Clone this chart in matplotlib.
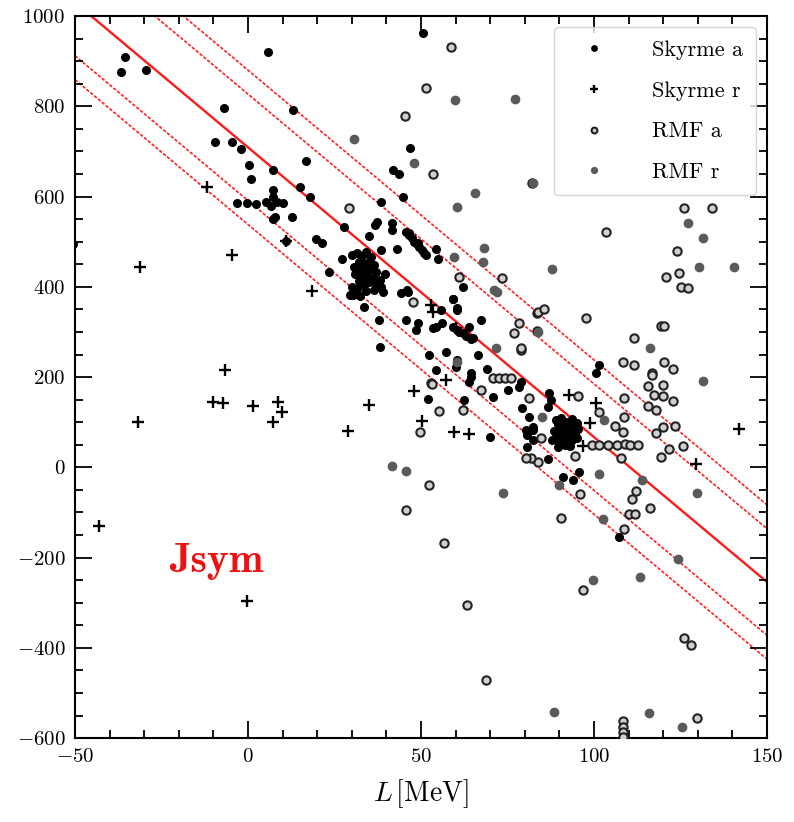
import numpy as np
import matplotlib
matplotlib.use("Agg")
import matplotlib.pyplot as plt

plt.rcParams['font.family'] = 'serif'
plt.rcParams['font.serif'] = ['cmr10', 'DejaVu Serif']
plt.rcParams['mathtext.fontset'] = 'cm'
plt.rcParams['axes.formatter.use_mathtext'] = True

# Skyrme a (filled black dots)
skyrme_a = [
    (-35.5, 910), (-36.7, 876), (-29.5, 880), (5.9, 921), (-6.8, 797), (12.9, 792),
    (-9.5, 721), (-4.6, 721), (-2.0, 705), (0.3, 670), (1.0, 638), (7.3, 659),
    (16.8, 679), (15.0, 622), (17.9, 600), (-3.3, 586), (-0.4, 585), (2.3, 583),
    (5.2, 589), (7.1, 614), (7.3, 600), (8.5, 589), (10.2, 586), (6.5, 578),
    (7.8, 554), (7.1, 550), (12.8, 555), (11.0, 501), (-50.5, 495),
    (50.5, 963), (46.8, 707), (41.8, 659), (43.7, 651), (44.7, 600), (38.4, 589),
    (27.8, 533), (37.2, 544), (36.8, 538), (41.6, 541), (41.6, 526), (35.1, 513),
    (19.7, 505), (21.4, 496), (43.0, 484), (38.4, 481),
    (45.6, 522), (46.5, 515), (47.3, 508), (48.0, 500), (48.8, 494), (49.5, 488),
    (50.2, 482), (51.0, 476), (51.4, 470), (46.5, 519), (49.0, 497),
    (54.3, 483), (54.8, 461), (27.2, 461), (23.5, 433),
    (30.0, 470), (31.5, 475), (33.0, 468), (34.0, 478), (35.5, 465), (32.0, 455),
    (33.5, 450), (35.0, 455), (36.5, 448), (30.5, 445), (32.0, 440), (34.0, 435),
    (35.5, 440), (37.0, 432), (31.0, 428), (33.0, 422), (34.5, 425), (36.0, 420),
    (32.0, 412), (33.5, 405), (35.0, 410), (37.0, 405), (38.5, 400), (30.0, 400),
    (31.5, 395), (34.0, 390), (36.5, 392), (39.0, 388), (29.5, 382), (32.5, 380),
    (38.0, 415), (39.5, 428),
    (30.2, 382), (33.6, 356), (37.8, 326), (38.0, 267), (44.2, 386), (46.1, 389),
    (46.0, 393), (45.6, 326), (49.0, 319), (48.6, 304), (55.8, 349), (56.2, 319),
    (54.3, 311), (53.4, 308), (61.1, 300), (63.9, 311), (64.9, 286), (67.3, 326),
    (60.5, 349), (59.1, 374), (62.0, 400), (59.3, 372), (60.5, 352), (59.1, 311),
    (60.5, 305), (62.0, 298), (63.0, 292), (64.4, 284), (66.4, 249), (57.2, 256),
    (52.4, 249), (54.3, 216), (64.4, 208), (69.2, 219), (60.5, 238), (60.1, 223),
    (64.4, 201), (63.9, 190), (51.9, 151), (62.3, 149), (70.7, 156), (75.0, 171),
    (69.9, 68), (78.4, 179), (78.9, 190), (79.3, 131), (81.3, 112), (82.3, 90),
    (80.3, 83), (82.3, 61), (80.7, 72), (80.7, 45),
    (87.1, 164), (87.6, 149), (86.6, 134), (82.3, 83), (86.6, 18), (95.8, -10),
    (90.9, -21), (93.8, -28), (101.5, 227), (100.5, 208), (107.1, -154),
    (89.0, 105), (90.5, 110), (92.0, 100), (93.5, 108), (95.0, 98), (89.5, 95),
    (91.0, 90), (92.5, 88), (94.0, 92), (95.5, 85), (88.5, 80), (90.0, 78),
    (91.5, 75), (93.0, 72), (94.5, 76), (89.0, 68), (90.5, 65), (92.0, 62),
    (93.5, 60), (95.0, 65), (90.0, 55), (91.5, 50), (93.0, 48), (89.5, 45), (88.0, 60),
]

# Skyrme r (plus)
skyrme_r = [
    (-12.0, 622), (-4.6, 470), (-31.2, 445), (-6.6, 216), (11.0, 501), (18.6, 391),
    (-10.0, 145), (-7.1, 143), (1.5, 137), (8.8, 145), (9.7, 123), (7.3, 100),
    (-31.7, 100), (-43.0, -129), (-0.4, -296), (57.2, 193), (47.9, 170), (35.1, 138),
    (50.3, 103), (28.8, 81), (59.6, 78), (63.8, 75), (52.9, 360), (53.4, 345),
    (60.1, 308), (92.9, 160), (100.5, 142), (98.8, 98), (96.9, 47), (129.5, 7),
    (141.8, 86),
]

# RMF a (open rings)
rmf_a = [
    (58.7, 931), (51.4, 840), (45.5, 779), (53.6, 651), (29.1, 574), (47.6, 367),
    (60.9, 422), (73.4, 419), (83.4, 343), (83.5, 302), (78.2, 320), (76.8, 297),
    (78.9, 260), (70.9, 198), (72.5, 198), (74.2, 198), (75.9, 198), (67.3, 171),
    (78.9, 264), (81.3, 153), (55.3, 125), (62.0, 127), (52.9, 187), (49.8, 78),
    (82.1, 629), (126.1, 574), (134.1, 574), (103.6, 522), (124.0, 480), (120.8, 422),
    (124.7, 430), (125.1, 400), (127.1, 397), (83.7, 345), (85.6, 350), (97.7, 332),
    (119.4, 313), (120.3, 313), (111.6, 286), (108.3, 234), (111.6, 227), (120.3, 234),
    (122.7, 219), (116.9, 208), (116.9, 204), (115.5, 180), (119.8, 182), (117.4, 160),
    (119.8, 158), (122.7, 148), (108.8, 153), (115.5, 136), (117.9, 128), (108.8, 112),
    (106.0, 92), (108.3, 79), (119.8, 90), (117.9, 77), (123.3, 92), (125.6, 47),
    (121.6, 40), (119.4, 24), (112.1, -52), (111.1, -69), (116.3, -89), (110.2, -103),
    (111.9, -103), (108.6, -136), (96.0, -58), (90.5, -112), (96.9, -272), (126.1, -379),
    (127.9, -394), (129.9, -555), (108.3, -563), (108.3, -575), (108.3, -587), (108.3, -598),
    (95.3, 158), (101.5, 123), (99.5, 50), (101.5, 50), (104.0, 50), (106.5, 50),
    (109.0, 51), (110.5, 50), (112.6, 50), (107.8, 20), (83.7, 12), (84.7, 64),
    (81.8, 20), (94.6, 25), (52.2, -39), (45.6, -95), (56.5, -168), (63.2, -305),
    (68.8, -471), (53.1, 185), (80.3, 20),
]

# RMF r (grey dots)
rmf_r = [
    (59.9, 814), (77.3, 816), (30.7, 727), (48.1, 674), (60.4, 577), (65.7, 607),
    (82.3, 631), (59.6, 467), (68.1, 487), (67.8, 456), (71.2, 393), (72.1, 389),
    (71.7, 264), (60.5, 234), (127.1, 541), (131.6, 509), (130.4, 444), (140.5, 443),
    (88.0, 439), (83.7, 300), (116.2, 264), (131.4, 191), (129.9, -56), (114.0, -28),
    (101.5, -15), (102.7, -114), (124.2, -202), (113.3, -242), (99.6, -250), (88.5, -541),
    (116.0, -544), (125.4, -575), (103.0, 105), (85.1, 112), (90.0, -39), (41.6, 3),
    (45.6, -7), (73.8, -56),
]

# linear fit Jsym = a + b*L and band offsets
fit_a = 709.0
fit_b = -6.42
band_offsets = [118, 171]

fig = plt.figure(figsize=(7.94, 8.22), dpi=100)
ax = fig.add_axes([0.0945, 0.102, 0.8715, 0.8785])

L = np.array([-50, 150])
ax.plot(L, fit_a + fit_b * L, color='#ff1a1a', lw=1.7, zorder=1)
for off in band_offsets:
    for s in (1, -1):
        ax.plot(L, fit_a + fit_b * L + s * off, color='#ff2020', lw=1.2,
                ls=(0, (2.0, 1.0)), zorder=1)

def xy(pts):
    a = np.array(pts)
    return a[:, 0], a[:, 1]

x, y = xy(skyrme_a)
ax.plot(x, y, 'o', color='k', ms=5.5, ls='none', label='Skyrme a', zorder=3)
x, y = xy(skyrme_r)
ax.plot(x, y, '+', color='k', ms=9, mew=1.7, ls='none', label='Skyrme r', zorder=3)
x, y = xy(rmf_a)
ax.plot(x, y, 'o', mfc='#d0d0d0', mec='#222222', ms=6, mew=1.5, ls='none',
        label='RMF a', zorder=3)
x, y = xy(rmf_r)
ax.plot(x, y, 'o', color='#5a5a5a', ms=6, ls='none', label='RMF r', zorder=3)

ax.set_xlim(-50, 150)
ax.set_ylim(-600, 1000)
ax.set_xticks([-50, 0, 50, 100, 150])
ax.set_xticks(np.arange(-50, 151, 10), minor=True)
ax.set_yticks(np.arange(-600, 1001, 200))
ax.set_yticks(np.arange(-600, 1001, 50), minor=True)
ax.tick_params(which='both', direction='in', top=True, right=True, labelsize=15, width=1.3)
ax.tick_params(which='major', length=12, pad=7)
ax.tick_params(which='minor', length=6)
for sp in ax.spines.values():
    sp.set_linewidth(1.5)

ax.set_xlabel(r'$L\,$[MeV]', fontsize=20, labelpad=8)

ax.text(-22.7, -232, 'Jsym', color='#ee1111', fontsize=30, fontfamily='cmb10')

leg = ax.legend(loc='upper right', fontsize=16, frameon=True, fancybox=True,
                edgecolor='#cccccc', handlelength=2.4, handletextpad=1.4,
                labelspacing=0.95, borderpad=0.6, markerscale=0.7,
                borderaxespad=0.5)

fig.savefig('out.png', dpi=100)
